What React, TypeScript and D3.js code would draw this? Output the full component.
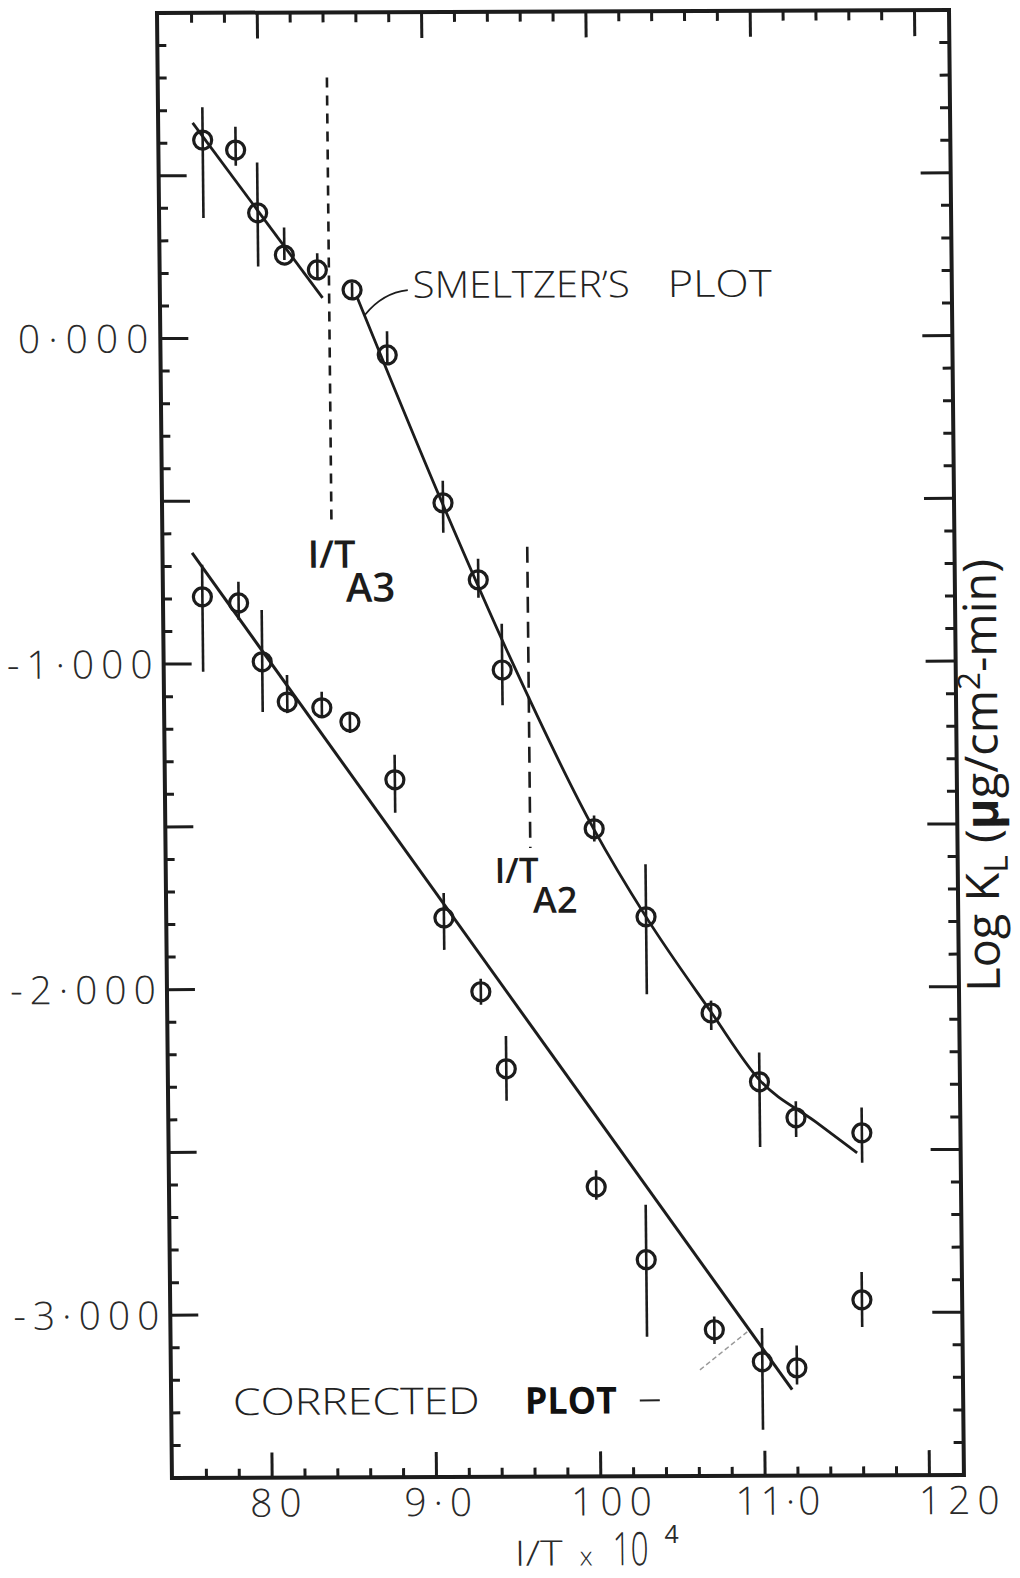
import React from 'react';
import * as d3 from 'd3';

// page + plot frame (the scan is slightly skewed, see `skew` below)
const W = 1020;
const H = 1578;
const frame = { left: 157, top: 13, right: 949, bottom: 1478 };

const xDomain = [7.39, 12.21];
const yDomain = [-3.5, 1.0];

// axis labels as printed on the sheet
const xTickValues = [8, 9, 10, 11, 12];
const xTickLabels = ['80', '9·0', '100', '11·0', '120'];
const yTickValues = [0, -1, -2, -3];
const yTickLabels = ['0·000', '-1·000', '-2·000', '-3·000'];

// Smeltzer's plot : 1/T x 10^4 , log K_L with error bar ends
const smeltzerX = [7.66, 7.86, 7.99, 8.15, 8.35, 8.56, 8.77, 9.1, 9.31, 9.45, 10.0, 10.31, 10.7, 10.99, 11.21, 11.61];
const smeltzerY = [0.609, 0.578, 0.385, 0.255, 0.209, 0.147, -0.053, -0.508, -0.745, -1.022, -1.511, -1.782, -2.078, -2.29, -2.401, -2.448];
const smeltzerHi = [0.71, 0.65, 0.54, 0.34, 0.26, 0.17, 0.02, -0.44, -0.68, -0.88, -1.47, -1.62, -2.04, -2.2, -2.35, -2.37];
const smeltzerLo = [0.37, 0.53, 0.22, 0.24, 0.18, 0.12, -0.08, -0.6, -0.8, -1.13, -1.55, -2.02, -2.13, -2.49, -2.46, -2.54];

// corrected plot
const correctedX = [7.63, 7.85, 7.99, 8.14, 8.35, 8.52, 8.79, 9.08, 9.3, 9.45, 9.99, 10.29, 10.7, 10.99, 11.2, 11.6];
const correctedY = [-0.794, -0.813, -0.994, -1.118, -1.136, -1.18, -1.358, -1.783, -2.01, -2.247, -2.611, -2.835, -3.051, -3.15, -3.169, -2.961];
const correctedHi = [-0.695, -0.748, -0.835, -1.035, -1.087, -1.152, -1.281, -1.706, -1.97, -2.146, -2.56, -2.666, -3.01, -3.046, -3.1, -2.875];
const correctedLo = [-1.024, -0.865, -1.148, -1.152, -1.167, -1.214, -1.459, -1.881, -2.05, -2.345, -2.65, -3.072, -3.095, -3.359, -3.22, -3.044];

// hand drawn fits
const fitAX = [7.6, 8.38];
const fitAY = [0.662, 0.123];
const fitBX = [8.59, 9.1, 9.5, 10.0, 10.31, 10.7, 10.99, 11.33, 11.58];
const fitBY = [0.125, -0.514, -0.985, -1.514, -1.782, -2.075, -2.284, -2.414, -2.509];
const fitCX = [7.57, 11.17];
const fitCY = [-0.659, -3.236];
const pencilX = [10.61, 10.9];
const pencilY = [-3.174, -3.058];

// transformation temperatures (dashed)
const tA3 = { x: 8.42, y0: 0.8, y1: -0.574 };
const tA2 = { x: 9.61, y0: -0.644, y1: -1.569 };

const FONT = "'Open Sans', 'DejaVu Sans', sans-serif";
const INK = '#1c1c1c';

const zip = (xs: number[], ys: number[]) => xs.map((v, i) => [v, ys[i]] as [number, number]);

export default function App() {
  const x = d3.scaleLinear().domain(xDomain).range([frame.left, frame.right]);
  const y = d3.scaleLinear().domain(yDomain).range([frame.bottom, frame.top]);

  const straight = d3.line<[number, number]>().x(d => x(d[0])).y(d => y(d[1]));
  const smooth = d3
    .line<[number, number]>()
    .x(d => x(d[0]))
    .y(d => y(d[1]))
    .curve(d3.curveMonotoneX);

  // the scanned sheet leans a little: left edge moves right going down
  const skew = `matrix(1, -0.0038, 0.0102, 1, ${-0.0102 * frame.top}, ${0.0038 * frame.left})`;

  // ticks: 0.1 on y, 0.2 on x, long ones on the halves / integers
  const yTicks = d3.range(-34, 10).map(v => v / 10);
  const xTicks = d3.range(38, 61).map(v => v / 5);

  // label nudges (lettering was not centred on the ticks)
  const xLabelNudge = [3, 1, 10, 10, 29];

  const points = (
    xs: number[],
    ys: number[],
    his: number[],
    los: number[],
    key: string
  ) =>
    xs.map((v, i) => (
      <g key={key + i}>
        <line x1={x(v)} x2={x(v)} y1={y(his[i])} y2={y(los[i])} stroke={INK} strokeWidth={2.6} />
        <circle cx={x(v)} cy={y(ys[i])} r={9} fill="none" stroke={INK} strokeWidth={3.2} />
      </g>
    ));

  const lead = [
    [8.636, 0.07],
    [8.745, 0.138],
    [8.899, 0.146],
  ];

  const titleY = frame.bottom + 89;

  return (
    <svg
      width={W}
      height={H}
      style={{ position: 'absolute', left: 0, top: 0, background: '#fff' }}
      fontFamily={FONT}
    >
      <rect width={W} height={H} fill="#fff" />
      <g transform={skew}>
        {/* frame */}
        <rect
          x={frame.left}
          y={frame.top}
          width={frame.right - frame.left}
          height={frame.bottom - frame.top}
          fill="none"
          stroke={INK}
          strokeWidth={4}
        />

        {/* left + right ticks */}
        {yTicks.map(v => {
          const major = Math.abs(Math.round(v * 2) - v * 2) < 1e-6;
          const yy = y(v);
          return (
            <g key={'yt' + v}>
              <line x1={frame.left} x2={frame.left + (major ? 28 : 9)} y1={yy} y2={yy} stroke={INK} strokeWidth={3} />
              <line x1={frame.right} x2={frame.right - (major ? 30 : 10)} y1={yy} y2={yy} stroke={INK} strokeWidth={3} />
            </g>
          );
        })}

        {/* bottom + top ticks */}
        {xTicks.map(v => {
          const major = Math.abs(Math.round(v) - v) < 1e-6;
          const xx = x(v);
          return (
            <g key={'xt' + v}>
              <line x1={xx} x2={xx} y1={frame.bottom} y2={frame.bottom - (major ? 25 : 9)} stroke={INK} strokeWidth={3} />
              <line x1={xx} x2={xx} y1={frame.top} y2={frame.top + (major ? 26 : 10)} stroke={INK} strokeWidth={3} />
            </g>
          );
        })}

        {/* y tick labels */}
        {yTickValues.map((v, i) => (
          <text
            key={'yl' + v}
            x={frame.left - 4}
            y={y(v)}
            dy="0.36em"
            textAnchor="end"
            fontSize={39}
            fontWeight={300}
            letterSpacing={v === 0 ? 8 : 7}
            fill="#2a2a2a"
          >
            {yTickLabels[i]}
          </text>
        ))}

        {/* x tick labels */}
        {xTickValues.map((v, i) => (
          <text
            key={'xl' + v}
            x={x(v) + xLabelNudge[i] + 4}
            y={frame.bottom + 39}
            textAnchor="middle"
            fontSize={39}
            fontWeight={300}
            letterSpacing={v === 11 ? 3 : 7}
            fill="#2a2a2a"
          >
            {xTickLabels[i]}
          </text>
        ))}

        {/* x title : I/T x 10^4 */}
        <text x={499} y={titleY} fontSize={35} fontWeight={300} fill="#2a2a2a" textLength={48} lengthAdjust="spacingAndGlyphs">
          I/T
        </text>
        <text x={564} y={titleY} fontSize={26} fontWeight={300} fill="#2a2a2a">
          x
        </text>
        <text x={597} y={titleY} fontSize={46} fontWeight={300} fill="#2a2a2a" textLength={36} lengthAdjust="spacingAndGlyphs">
          10
        </text>
        <text x={649} y={titleY - 22} fontSize={25} fontWeight={400} fill="#2a2a2a">
          4
        </text>

        {/* y title, right side */}
        <text
          transform={`translate(990, 995) rotate(-90)`}
          fontSize={46}
          fontWeight={400}
          fill="#1c1c1c"
          textLength={433}
          lengthAdjust="spacingAndGlyphs"
        >
          Log K
          <tspan dy={9} fontSize={33}>L</tspan>
          <tspan dy={-9}> (</tspan>
          <tspan fontWeight={700}>μ</tspan>
          <tspan>g/cm</tspan>
          <tspan dy={-17} fontSize={31}>2</tspan>
          <tspan dy={17}>-min)</tspan>
        </text>

        {/* transformation temperatures */}
        <line x1={x(tA3.x)} x2={x(tA3.x)} y1={y(tA3.y0)} y2={y(tA3.y1)} stroke={INK} strokeWidth={2.6} strokeDasharray="10 8" />
        <line x1={x(tA2.x)} x2={x(tA2.x)} y1={y(tA2.y0)} y2={y(tA2.y1)} stroke={INK} strokeWidth={2.6} strokeDasharray="16 9" />

        <text x={x(8.273)} y={y(-0.706)} fontSize={38} fontWeight={600} fill={INK}>
          I/T
          <tspan dx={-10} dy={34} fontSize={40}>A3</tspan>
        </text>
        <text x={x(9.391)} y={y(-1.676)} fontSize={35} fontWeight={600} fill={INK}>
          I/T
          <tspan dx={-6} dy={30} fontSize={36}>A2</tspan>
        </text>

        {/* fitted lines */}
        <path d={straight(zip(fitAX, fitAY)) || ''} fill="none" stroke={INK} strokeWidth={2.8} />
        <path d={smooth(zip(fitBX, fitBY)) || ''} fill="none" stroke={INK} strokeWidth={2.8} />
        <path d={straight(zip(fitCX, fitCY)) || ''} fill="none" stroke={INK} strokeWidth={3} />
        <path d={straight(zip(pencilX, pencilY)) || ''} fill="none" stroke="#999" strokeWidth={1.5} strokeDasharray="5 3" />

        {/* data */}
        {points(smeltzerX, smeltzerY, smeltzerHi, smeltzerLo, 's')}
        {points(correctedX, correctedY, correctedHi, correctedLo, 'c')}

        {/* Smeltzer label + leader */}
        <path
          d={`M${x(lead[0][0])},${y(lead[0][1])} Q${x(lead[1][0])},${y(lead[1][1])} ${x(lead[2][0])},${y(lead[2][1])}`}
          fill="none"
          stroke={INK}
          strokeWidth={1.8}
        />
        <text x={x(8.929)} y={y(0.122)} fontSize={37} fontWeight={300} fill="#222" textLength={217} lengthAdjust="spacingAndGlyphs">
          SMELTZER’S
        </text>
        <text x={x(8.929) + 255} y={y(0.122)} fontSize={37} fontWeight={300} fill="#222" textLength={104} lengthAdjust="spacingAndGlyphs">
          PLOT
        </text>

        {/* corrected label */}
        <text x={x(7.765)} y={y(-3.307)} fontSize={37} fontWeight={300} fill="#222" textLength={247} lengthAdjust="spacingAndGlyphs">
          CORRECTED
        </text>
        <text x={x(7.765) + 292} y={y(-3.307)} fontSize={37} fontWeight={700} fill="#111" textLength={92} lengthAdjust="spacingAndGlyphs">
          PLOT
        </text>
        <line x1={x(7.765) + 407} x2={x(7.765) + 427} y1={y(-3.307) - 13} y2={y(-3.307) - 13} stroke="#222" strokeWidth={2} />
      </g>
    </svg>
  );
}
